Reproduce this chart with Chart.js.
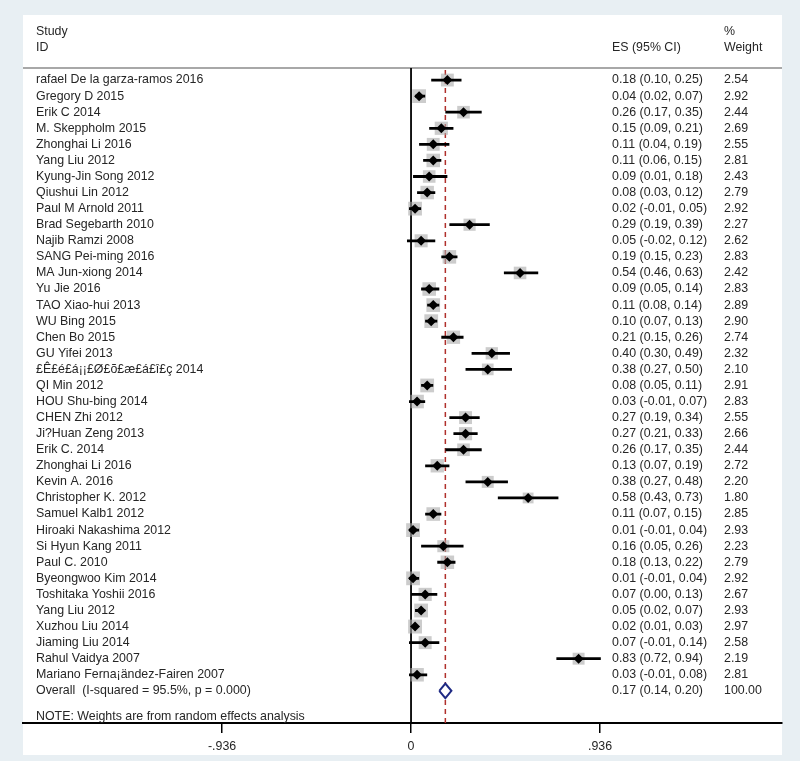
<!DOCTYPE html>
<html>
<head>
<meta charset="utf-8">
<title>Forest plot</title>
<script src="https://cdn.jsdelivr.net/npm/chart.js@4.4.1/dist/chart.umd.min.js"></script>
<style>
  body { margin: 0; background: #e8eff3; }
  #forest { display: block; }
</style>
</head>
<body>
<canvas id="forest" width="800" height="761"></canvas>
<script>
// study rows, top to bottom
const studies = [
  'rafael De la garza-ramos 2016', 'Gregory D 2015', 'Erik C 2014', 'M. Skeppholm 2015',
  'Zhonghai Li 2016', 'Yang Liu 2012', 'Kyung-Jin Song 2012', 'Qiushui Lin 2012',
  'Paul M Arnold 2011', 'Brad Segebarth 2010', 'Najib Ramzi 2008', 'SANG Pei-ming 2016',
  'MA Jun-xiong 2014', 'Yu Jie 2016', 'TAO Xiao-hui 2013', 'WU Bing 2015',
  'Chen Bo 2015', 'GU Yifei 2013', '£Ê£é£á¡¡£Ø£õ£æ£á£î£ç 2014', 'QI Min 2012',
  'HOU Shu-bing 2014', 'CHEN Zhi 2012', 'Ji?Huan Zeng 2013', 'Erik C. 2014',
  'Zhonghai Li 2016', 'Kevin A. 2016', 'Christopher K. 2012', 'Samuel Kalb1 2012',
  'Hiroaki Nakashima 2012', 'Si Hyun Kang 2011', 'Paul C. 2010', 'Byeongwoo Kim 2014',
  'Toshitaka Yoshii 2016', 'Yang Liu 2012', 'Xuzhou Liu 2014', 'Jiaming Liu 2014',
  'Rahul Vaidya 2007', 'Mariano Ferna¡ändez-Fairen 2007'
];
const es = [0.18, 0.04, 0.26, 0.15, 0.11, 0.11, 0.09, 0.08, 0.02, 0.29, 0.05, 0.19, 0.54,
  0.09, 0.11, 0.10, 0.21, 0.40, 0.38, 0.08, 0.03, 0.27, 0.27, 0.26, 0.13, 0.38, 0.58,
  0.11, 0.01, 0.16, 0.18, 0.01, 0.07, 0.05, 0.02, 0.07, 0.83, 0.03];
const lo = [0.10, 0.02, 0.17, 0.09, 0.04, 0.06, 0.01, 0.03, -0.01, 0.19, -0.02, 0.15, 0.46,
  0.05, 0.08, 0.07, 0.15, 0.30, 0.27, 0.05, -0.01, 0.19, 0.21, 0.17, 0.07, 0.27, 0.43,
  0.07, -0.01, 0.05, 0.13, -0.01, 0.00, 0.02, 0.01, -0.01, 0.72, -0.01];
const hi = [0.25, 0.07, 0.35, 0.21, 0.19, 0.15, 0.18, 0.12, 0.05, 0.39, 0.12, 0.23, 0.63,
  0.14, 0.14, 0.13, 0.26, 0.49, 0.50, 0.11, 0.07, 0.34, 0.33, 0.35, 0.19, 0.48, 0.73,
  0.15, 0.04, 0.26, 0.22, 0.04, 0.13, 0.07, 0.03, 0.14, 0.94, 0.08];
const weights = [2.54, 2.92, 2.44, 2.69, 2.55, 2.81, 2.43, 2.79, 2.92, 2.27, 2.62, 2.83, 2.42,
  2.83, 2.89, 2.90, 2.74, 2.32, 2.10, 2.91, 2.83, 2.55, 2.66, 2.44, 2.72, 2.20, 1.80,
  2.85, 2.93, 2.23, 2.79, 2.92, 2.67, 2.93, 2.97, 2.58, 2.19, 2.81];

// pooled estimate
const overallLabel = 'Overall  (I-squared = 95.5%, p = 0.000)';
const overallES = 0.17;
const overallLo = 0.14;
const overallHi = 0.20;
const overallWeight = '100.00';

// x axis ticks
const xTicks = [-0.936, 0, 0.936];
const xTickLabels = ['-.936', '0', '.936'];

const TEXT = '#262626';
const FAMILY = '"Liberation Sans", Arial, sans-serif';
const FONT = '12.4px ' + FAMILY;
const overallRow = studies.length;

function fmt(v) { return v.toFixed(2); }

// CI whiskers, one segment per study separated by gaps
const ciData = [];
studies.forEach(function(s, i) {
  ciData.push({ x: lo[i], y: i }, { x: hi[i], y: i }, { x: null, y: null });
});

const diamondData = [
  { x: overallLo, y: overallRow },
  { x: overallES, y: overallRow - 0.45 },
  { x: overallHi, y: overallRow },
  { x: overallES, y: overallRow + 0.45 },
  { x: overallLo, y: overallRow }
];

const forestText = {
  id: 'forestText',
  beforeDraw: function(chart) {
    const ctx = chart.ctx;
    ctx.save();
    ctx.fillStyle = '#e8eff3';
    ctx.fillRect(0, 0, chart.width, chart.height);
    ctx.fillStyle = '#ffffff';
    ctx.fillRect(23, 15, 759, 740);
    ctx.restore();
  },
  beforeDatasetsDraw: function(chart) {
    const ctx = chart.ctx;
    const area = chart.chartArea;
    const x = chart.scales.x;
    ctx.save();
    // header rule
    ctx.strokeStyle = '#a8a8a8';
    ctx.lineWidth = 2;
    ctx.beginPath();
    ctx.moveTo(area.left, area.top);
    ctx.lineTo(area.right, area.top);
    ctx.stroke();
    // null line
    ctx.strokeStyle = '#000';
    ctx.lineWidth = 1.8;
    ctx.beginPath();
    ctx.moveTo(x.getPixelForValue(0), area.top);
    ctx.lineTo(x.getPixelForValue(0), area.bottom);
    ctx.stroke();
    // pooled estimate line
    ctx.strokeStyle = '#b0302c';
    ctx.lineWidth = 1.5;
    ctx.setLineDash([5, 4]);
    ctx.beginPath();
    ctx.moveTo(x.getPixelForValue(overallES), area.top + 2);
    ctx.lineTo(x.getPixelForValue(overallES), area.bottom);
    ctx.stroke();
    ctx.restore();
  },
  afterDraw: function(chart) {
    const ctx = chart.ctx;
    const y = chart.scales.y;
    ctx.save();
    ctx.font = FONT;
    ctx.fillStyle = TEXT;
    ctx.textBaseline = 'middle';
    ctx.textAlign = 'left';
    // header
    ctx.fillText('Study', 36, 32);
    ctx.fillText('ID', 36, 48);
    ctx.fillText('ES (95% CI)', 612, 48);
    ctx.fillText('%', 724, 32);
    ctx.fillText('Weight', 724, 48);
    // rows
    studies.forEach(function(s, i) {
      const py = y.getPixelForValue(i);
      ctx.fillText(s, 36, py);
      ctx.fillText(fmt(es[i]) + ' (' + fmt(lo[i]) + ', ' + fmt(hi[i]) + ')', 612, py);
      ctx.fillText(fmt(weights[i]), 724, py);
    });
    const oy = y.getPixelForValue(overallRow);
    ctx.fillText(overallLabel, 36, oy);
    ctx.fillText(fmt(overallES) + ' (' + fmt(overallLo) + ', ' + fmt(overallHi) + ')', 612, oy);
    ctx.fillText(overallWeight, 724, oy);
    ctx.fillText('NOTE: Weights are from random effects analysis', 36, y.getPixelForValue(overallRow + 1.6));
    ctx.restore();
  }
};

new Chart(document.getElementById('forest'), {
  type: 'scatter',
  data: {
    datasets: [{
      // weight boxes
      data: es.map(function(v, i) { return { x: v, y: i }; }),
      pointStyle: 'rect',
      pointRadius: function(c) { return 5.7 * Math.sqrt(weights[c.dataIndex] || 0); },
      backgroundColor: 'rgba(170,170,170,0.6)',
      borderWidth: 0,
      order: 4
    }, {
      type: 'line',
      data: ciData,
      borderColor: '#000',
      borderWidth: 2.8,
      pointRadius: 0,
      spanGaps: false,
      fill: false,
      order: 3
    }, {
      data: es.map(function(v, i) { return { x: v, y: i }; }),
      pointStyle: 'rectRot',
      pointRadius: 5,
      backgroundColor: '#000',
      borderWidth: 0,
      order: 2
    }, {
      type: 'line',
      data: diamondData,
      borderColor: '#1f2a84',
      backgroundColor: '#ffffff',
      borderWidth: 2,
      pointRadius: 0,
      tension: 0,
      fill: 'shape',
      order: 1
    }]
  },
  options: {
    responsive: false,
    animation: false,
    layout: { padding: { left: 23, right: 18, top: 68, bottom: 2 } },
    plugins: {
      legend: { display: false },
      tooltip: { enabled: false }
    },
    scales: {
      x: {
        type: 'linear',
        min: -1.922,
        max: 1.8375,
        afterBuildTicks: function(scale) {
          scale.ticks = xTicks.map(function(v) { return { value: v }; });
        },
        afterFit: function(scale) {
          scale.height = 36;
        },
        ticks: {
          color: TEXT,
          padding: 6,
          font: { family: FAMILY, size: 12.4 },
          callback: function(v, i) { return xTickLabels[i]; }
        },
        grid: {
          display: true,
          drawOnChartArea: false,
          drawTicks: true,
          tickLength: 10,
          color: '#000',
          lineWidth: 1.5
        },
        border: { display: true, color: '#000', width: 2 }
      },
      y: {
        type: 'linear',
        reverse: true,
        min: -0.75,
        max: 40,
        display: false
      }
    }
  },
  plugins: [forestText]
});
</script>
</body>
</html>
